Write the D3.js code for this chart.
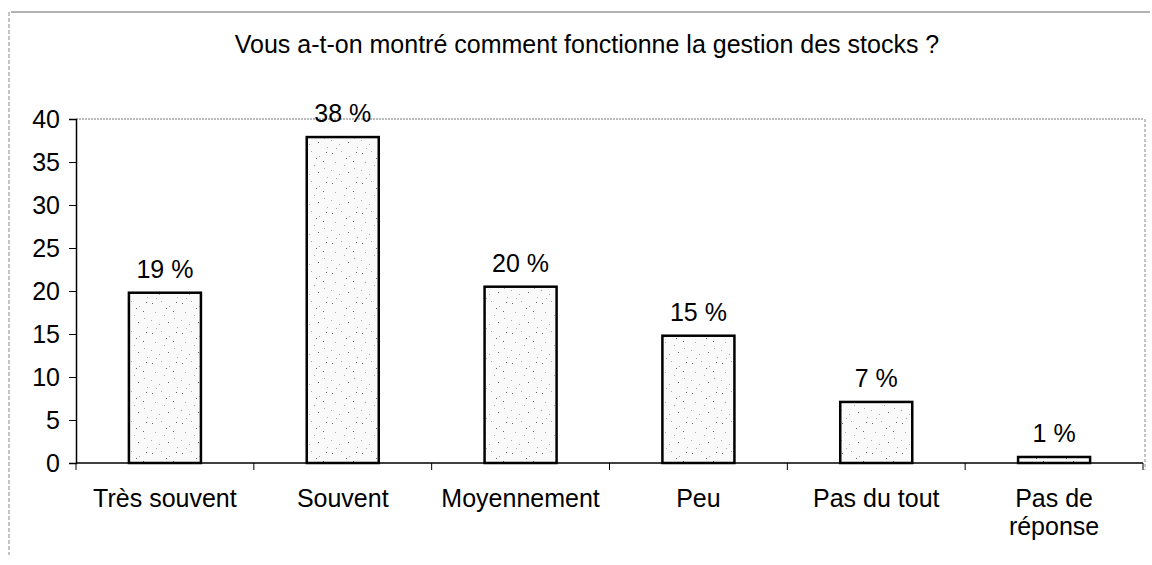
<!DOCTYPE html>
<html>
<head>
<meta charset="utf-8">
<script src="https://cdn.jsdelivr.net/npm/d3@7"></script>
<style>
  html, body { margin: 0; padding: 0; background: #fff; }
  svg { display: block; font-family: "Liberation Sans", Arial, sans-serif; }
</style>
</head>
<body>
<svg id="chart" width="1152" height="565"></svg>
<script>
const title = "Vous a-t-on montré comment fonctionne la gestion des stocks ?";
const categories = ["Très souvent", "Souvent", "Moyennement", "Peu", "Pas du tout", "Pas de réponse"];
const values = [19.8, 37.9, 20.5, 14.8, 7.1, 0.7];
const valueLabels = ["19 %", "38 %", "20 %", "15 %", "7 %", "1 %"];
const yTicks = [0, 5, 10, 15, 20, 25, 30, 35, 40];

const FS = 25;
const svg = d3.select("#chart");
const margin = { left: 76, right: 1143, top: 119, bottom: 463 };

// dotted stipple pattern (fixed dot positions)
const defs = svg.append("defs");
const pat = defs.append("pattern").attr("id", "stipple")
  .attr("patternUnits", "userSpaceOnUse").attr("width", 30).attr("height", 30);
pat.append("rect").attr("width", 30).attr("height", 30).attr("fill", "#fafafa");
const dots = [[2,3],[11,1],[19,6],[26,2],[5,12],[14,15],[23,11],[1,20],[9,24],[18,22],[27,27],[6,28],[16,8],[24,18]];
dots.forEach(([x, y], i) => pat.append("rect").attr("x", x).attr("y", y)
  .attr("width", 1).attr("height", 1).attr("fill", i % 3 === 0 ? "#666" : "#aaa"));

// outer chart border
svg.append("line").attr("x1", 11).attr("x2", 1150).attr("y1", 12).attr("y2", 12)
  .attr("stroke", "#666").attr("stroke-width", 1);
svg.append("line").attr("x1", 9).attr("x2", 9).attr("y1", 12).attr("y2", 555)
  .attr("stroke", "#888").attr("stroke-width", 1).attr("stroke-dasharray", "4,2");
svg.append("line").attr("x1", 1145).attr("x2", 1145).attr("y1", 119).attr("y2", 470)
  .attr("stroke", "#888").attr("stroke-width", 1).attr("stroke-dasharray", "3,2");

// title
svg.append("text").attr("x", 587).attr("y", 53).attr("text-anchor", "middle")
  .attr("font-size", FS).attr("fill", "#000").text(title);

const x = d3.scaleBand().domain(categories).range([margin.left, margin.right]).paddingInner(0).paddingOuter(0);
const y = d3.scaleLinear().domain([0, 40]).range([margin.bottom, margin.top]);

// plot area top border (dotted)
svg.append("line").attr("x1", margin.left).attr("x2", margin.right)
  .attr("y1", y(40)).attr("y2", y(40))
  .attr("stroke", "#777").attr("stroke-width", 1).attr("stroke-dasharray", "2,1");

// y axis
const yAxis = svg.append("g").attr("transform", `translate(${margin.left},0)`)
  .call(d3.axisLeft(y).tickValues(yTicks).tickSize(7).tickPadding(9));
yAxis.attr("font-size", FS).attr("font-family", "Liberation Sans, Arial, sans-serif");
yAxis.select(".domain").attr("stroke", "#000").attr("stroke-width", 1.5);
yAxis.selectAll(".tick line").attr("stroke", "#000");
yAxis.selectAll(".tick text").attr("font-size", FS).attr("fill", "#000");

// x axis: ticks at category boundaries
const bounds = d3.range(categories.length + 1).map(i => margin.left + i * x.step());
svg.append("line").attr("x1", margin.left).attr("x2", margin.right)
  .attr("y1", y(0)).attr("y2", y(0)).attr("stroke", "#000").attr("stroke-width", 1.5);
svg.selectAll(".xtick").data(bounds).join("line").attr("class", "xtick")
  .attr("x1", d => d).attr("x2", d => d).attr("y1", y(0)).attr("y2", y(0) + 7)
  .attr("stroke", "#000").attr("stroke-width", 1);

// bars
const barW = x.step() * 0.405;
svg.selectAll(".bar").data(values).join("rect").attr("class", "bar")
  .attr("x", (d, i) => x(categories[i]) + x.bandwidth() / 2 - barW / 2)
  .attr("y", d => y(d))
  .attr("width", barW)
  .attr("height", d => y(0) - y(d))
  .attr("fill", "url(#stipple)")
  .attr("stroke", "#000").attr("stroke-width", 2.5);

// value labels
svg.selectAll(".vlab").data(values).join("text").attr("class", "vlab")
  .attr("x", (d, i) => x(categories[i]) + x.bandwidth() / 2)
  .attr("y", d => y(d) - 15)
  .attr("text-anchor", "middle").attr("font-size", FS).attr("fill", "#000")
  .text((d, i) => valueLabels[i]);

// category labels
const catLines = categories.map(c => c === "Pas de réponse" ? ["Pas de", "réponse"] : [c]);
const cl = svg.selectAll(".clab").data(categories).join("text").attr("class", "clab")
  .attr("x", d => x(d) + x.bandwidth() / 2)
  .attr("y", 507)
  .attr("text-anchor", "middle").attr("font-size", FS).attr("fill", "#000");
cl.each(function(d, i) {
  const t = d3.select(this);
  catLines[i].forEach((line, j) => {
    t.append("tspan").attr("x", x(d) + x.bandwidth() / 2).attr("dy", j === 0 ? 0 : 28).text(line);
  });
});
</script>
</body>
</html>
